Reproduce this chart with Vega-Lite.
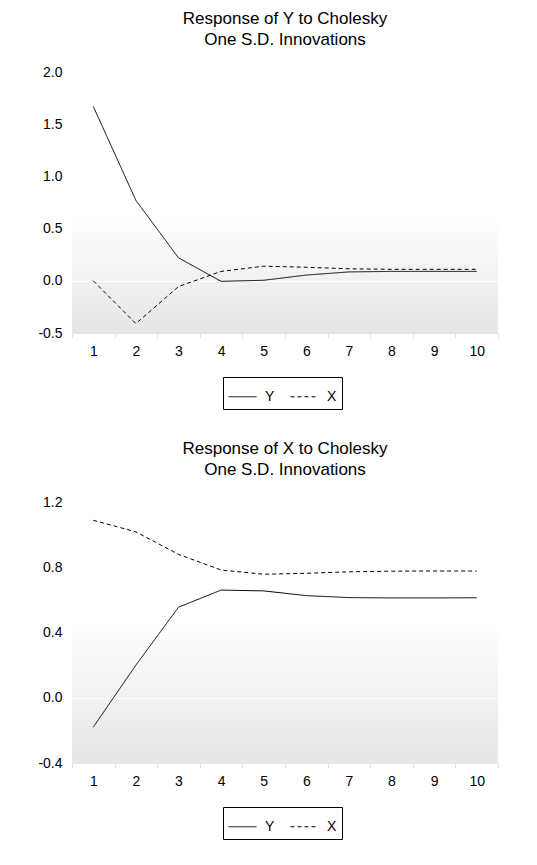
{
  "$schema": "https://vega.github.io/schema/vega-lite/v6.json",
  "background": "#ffffff",
  "padding": {"left": 37, "top": 10, "right": 5, "bottom": 5},
  "spacing": 30,
  "config": {
    "font": "Liberation Sans",
    "view": {"stroke": null},
    "title": {"fontSize": 17, "fontWeight": "normal", "color": "#000000", "lineHeight": 21, "offset": 16, "anchor": "middle"},
    "axisX": {"title": null, "labelAngle": 0, "tickBand": "extent", "domain": true, "domainColor": "#e4e4e4", "tickColor": "#e0e0e0", "tickSize": 5, "labelPadding": 6, "labelFontSize": 14, "labelColor": "#000000", "grid": false},
    "axisY": {"title": null, "domain": false, "ticks": true, "tickColor": "#ffffff", "tickSize": 5, "labelPadding": 5, "grid": true, "gridColor": "#ffffff", "labelFontSize": 14, "labelColor": "#000000", "format": ".1f", "labelExpr": "replace(datum.label, '−', '-')"},
    "legend": {"title": null, "orient": "none", "legendX": 151, "legendY": 305, "direction": "horizontal", "symbolType": "stroke", "symbolStrokeColor": "#000000", "symbolStrokeWidth": 1, "symbolSize": 784, "labelFontSize": 14, "labelColor": "#000000", "labelOffset": 8, "columnPadding": 13, "strokeColor": "#000000", "fillColor": "#ffffff", "padding": 5}
  },
  "resolve": {"legend": {"strokeDash": "independent"}, "scale": {"y": "independent"}},
  "vconcat": [
    {
      "title": {"text": ["Response of Y to Cholesky", "One S.D. Innovations"]},
      "width": 426,
      "height": 261,
      "view": {"stroke": null, "fill": {"gradient": "linear", "x1": 0, "y1": 0, "x2": 0, "y2": 1, "stops": [{"offset": 0, "color": "#ffffff"}, {"offset": 0.55, "color": "#ffffff"}, {"offset": 1, "color": "#e6e6e6"}]}},
      "data": {"values": [
        {"period": 1, "shock": "Y", "value": 1.67},
        {"period": 2, "shock": "Y", "value": 0.77},
        {"period": 3, "shock": "Y", "value": 0.22},
        {"period": 4, "shock": "Y", "value": -0.005},
        {"period": 5, "shock": "Y", "value": 0.005},
        {"period": 6, "shock": "Y", "value": 0.055},
        {"period": 7, "shock": "Y", "value": 0.085},
        {"period": 8, "shock": "Y", "value": 0.09},
        {"period": 9, "shock": "Y", "value": 0.09},
        {"period": 10, "shock": "Y", "value": 0.09},
        {"period": 1, "shock": "X", "value": 0.0},
        {"period": 2, "shock": "X", "value": -0.41},
        {"period": 3, "shock": "X", "value": -0.055},
        {"period": 4, "shock": "X", "value": 0.09},
        {"period": 5, "shock": "X", "value": 0.14},
        {"period": 6, "shock": "X", "value": 0.13},
        {"period": 7, "shock": "X", "value": 0.115},
        {"period": 8, "shock": "X", "value": 0.11},
        {"period": 9, "shock": "X", "value": 0.11},
        {"period": 10, "shock": "X", "value": 0.11}
      ]},
      "mark": {"type": "line", "color": "#000000", "strokeWidth": 1},
      "encoding": {
        "x": {"field": "period", "type": "ordinal", "scale": {"type": "band", "paddingInner": 0, "paddingOuter": 0}},
        "y": {"field": "value", "type": "quantitative", "scale": {"domain": [-0.5, 2.0], "nice": false, "zero": false}, "axis": {"values": [-0.5, 0, 0.5, 1, 1.5, 2]}},
        "strokeDash": {"field": "shock", "type": "nominal", "scale": {"domain": ["Y", "X"], "range": [[1, 0], [4, 3]]}}
      }
    },
    {
      "title": {"text": ["Response of X to Cholesky", "One S.D. Innovations"]},
      "width": 426,
      "height": 261,
      "view": {"stroke": null, "fill": {"gradient": "linear", "x1": 0, "y1": 0, "x2": 0, "y2": 1, "stops": [{"offset": 0, "color": "#ffffff"}, {"offset": 0.45, "color": "#ffffff"}, {"offset": 1, "color": "#e6e6e6"}]}},
      "data": {"values": [
        {"period": 1, "shock": "Y", "value": -0.18},
        {"period": 2, "shock": "Y", "value": 0.2},
        {"period": 3, "shock": "Y", "value": 0.555},
        {"period": 4, "shock": "Y", "value": 0.66},
        {"period": 5, "shock": "Y", "value": 0.655},
        {"period": 6, "shock": "Y", "value": 0.626},
        {"period": 7, "shock": "Y", "value": 0.614},
        {"period": 8, "shock": "Y", "value": 0.612},
        {"period": 9, "shock": "Y", "value": 0.612},
        {"period": 10, "shock": "Y", "value": 0.613},
        {"period": 1, "shock": "X", "value": 1.088},
        {"period": 2, "shock": "X", "value": 1.017},
        {"period": 3, "shock": "X", "value": 0.879},
        {"period": 4, "shock": "X", "value": 0.783},
        {"period": 5, "shock": "X", "value": 0.757},
        {"period": 6, "shock": "X", "value": 0.763},
        {"period": 7, "shock": "X", "value": 0.772},
        {"period": 8, "shock": "X", "value": 0.776},
        {"period": 9, "shock": "X", "value": 0.777},
        {"period": 10, "shock": "X", "value": 0.777}
      ]},
      "mark": {"type": "line", "color": "#000000", "strokeWidth": 1},
      "encoding": {
        "x": {"field": "period", "type": "ordinal", "scale": {"type": "band", "paddingInner": 0, "paddingOuter": 0}},
        "y": {"field": "value", "type": "quantitative", "scale": {"domain": [-0.4, 1.2], "nice": false, "zero": false}, "axis": {"values": [-0.4, 0, 0.4, 0.8, 1.2]}},
        "strokeDash": {"field": "shock", "type": "nominal", "scale": {"domain": ["Y", "X"], "range": [[1, 0], [4, 3]]}}
      }
    }
  ]
}
